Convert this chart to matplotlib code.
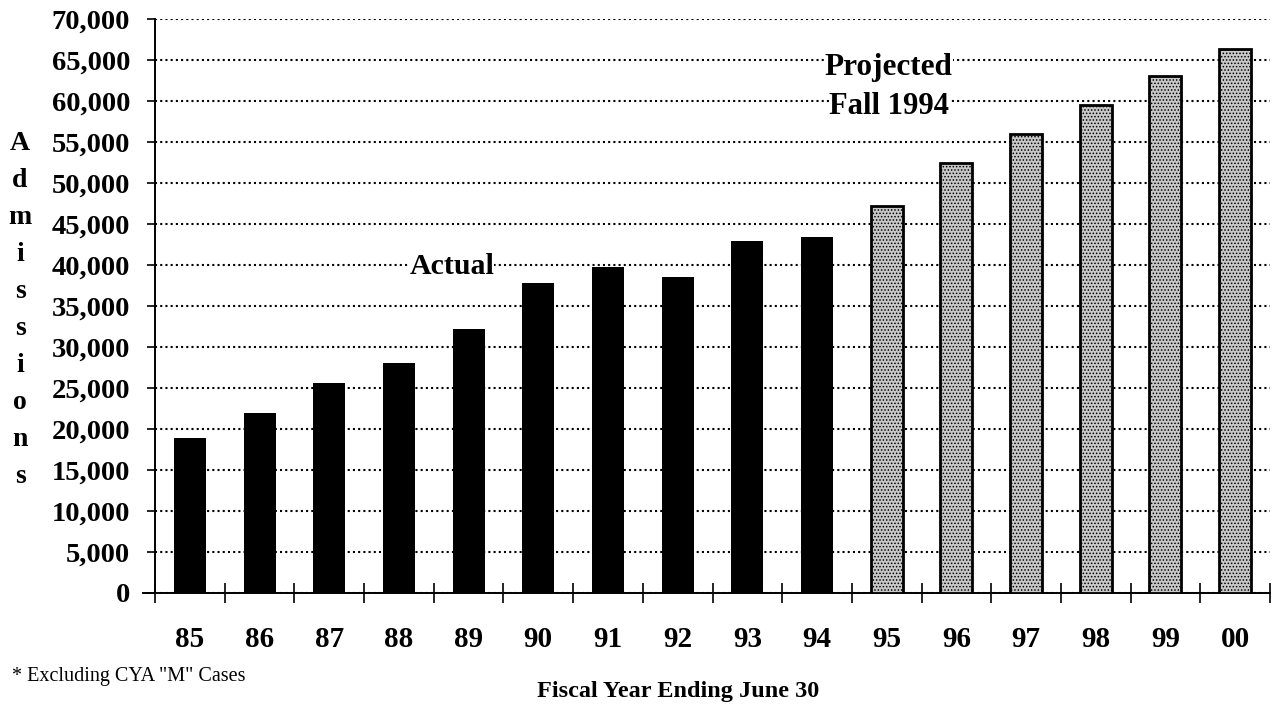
import numpy as np
import matplotlib
matplotlib.use('Agg')
import matplotlib.pyplot as plt
from matplotlib.ticker import FuncFormatter, FixedLocator

### Admissions by fiscal year
years     = ['85', '86', '87', '88', '89', '90', '91', '92',
             '93', '94', '95', '96', '97', '98', '99', '00']
actual    = [18900, 22000, 25600, 28100, 32200, 37800, 39700, 38500,
             42900, 43400]
projected = [47200, 52400, 56000, 59500, 63000, 66300]

plt.rcParams['font.family'] = ['Liberation Serif', 'DejaVu Serif']
plt.rcParams['hatch.linewidth'] = 0.7

fig = plt.figure(figsize=(12.74, 7.08), dpi=100)
ax = fig.add_axes([155/1274, 1-593/708, 1115/1274, 574/708])

x = np.arange(len(years))
n_act = len(actual)
ax.bar(x[:n_act], actual, width=0.46, color='black', zorder=3)
ax.bar(x[n_act:], projected, width=0.46, facecolor='#c8c8c8',
       edgecolor='black', linewidth=2.0, hatch='.....', zorder=3)

ax.set_xlim(-0.5, len(years)-0.5)
ax.set_ylim(0, 70000)
ax.set_yticks(np.arange(0, 70001, 5000))
ax.yaxis.set_major_formatter(FuncFormatter(lambda v, p: '{:,.0f}'.format(v)))
ax.yaxis.grid(True, color='black', linestyle=(0, (1, 1.5)), linewidth=1.5, zorder=1)

# labels at the bar centres, tick marks between the bars
ax.set_xticks(x)
ax.set_xticklabels(years)
ax.xaxis.set_minor_locator(FixedLocator(np.arange(0, len(years)+1) - 0.5))
ax.tick_params(axis='x', which='major', length=0, pad=24, labelsize=21)
ax.tick_params(axis='x', which='minor', direction='inout', length=14, width=1.2)
ax.tick_params(axis='y', direction='out', length=6, width=1.2, pad=12, labelsize=20.5)
for lab in ax.get_xticklabels() + ax.get_yticklabels():
    lab.set_fontweight('bold')

for s in ['top', 'right']:
    ax.spines[s].set_visible(False)
ax.spines['left'].set_linewidth(1.4)
ax.spines['bottom'].set_linewidth(1.4)
ax.spines['bottom'].set_bounds(-0.675, len(years)-0.5)

box = dict(facecolor='white', edgecolor='none', pad=0)
ax.text(3.76, 39800, 'Actual', ha='center', va='center', fontsize=21.5,
        fontweight='bold', bbox=box, zorder=4)
ax.text(10.03, 63170, 'Projected', ha='center', va='baseline', fontsize=22.5,
        fontweight='bold', bbox=box, zorder=4)
ax.text(10.03, 58410, 'Fall 1994', ha='center', va='baseline', fontsize=22,
        fontweight='bold', bbox=box, zorder=4)

# stacked letters of the y label
letters = 'Admissions'
for i, ch in enumerate(letters):
    fig.text(20/1274, 1-(143+i*37.1)/708, ch, ha='center', va='center',
             fontsize=20, fontweight='bold')

fig.text(678/1274, 1-697/708, 'Fiscal Year Ending June 30', ha='center',
         va='baseline', fontsize=17.5, fontweight='bold')
fig.text(12/1274, 1-681/708, '* Excluding CYA "M" Cases', ha='left',
         va='baseline', fontsize=14.5)

fig.savefig('out.png', dpi=100)
